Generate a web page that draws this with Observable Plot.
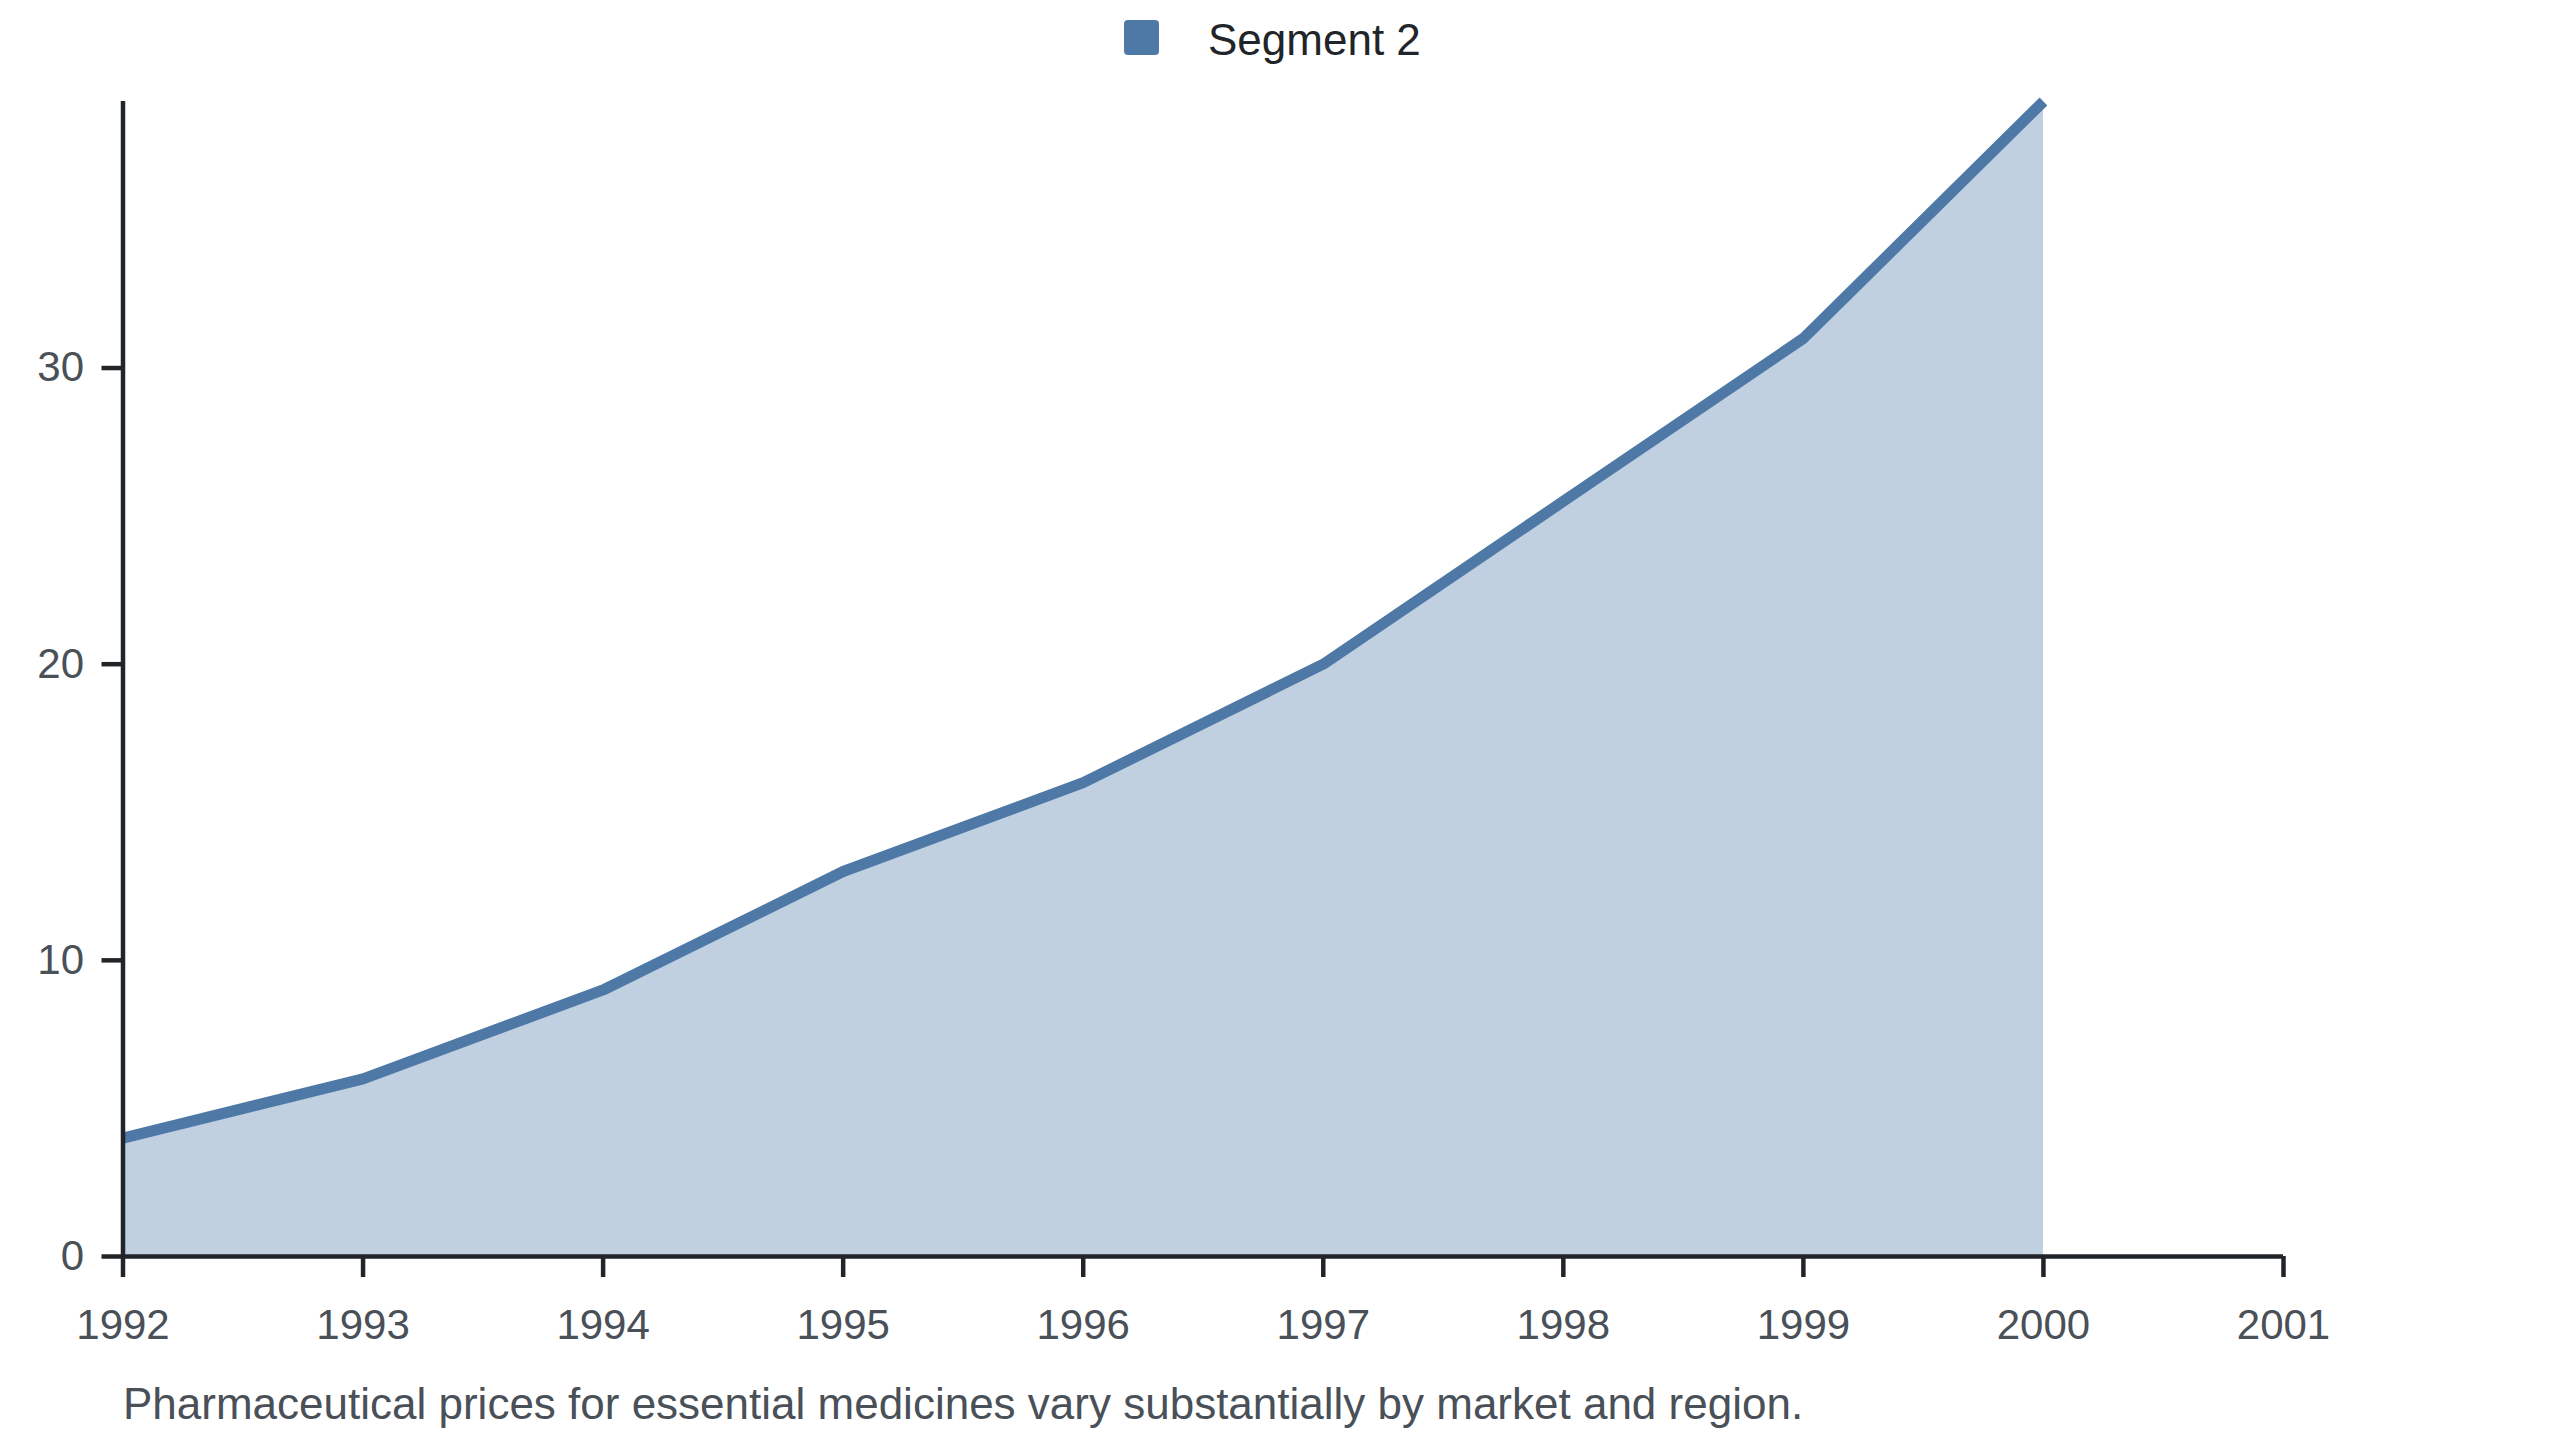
<!DOCTYPE html>
<html>
<head>
<meta charset="utf-8">
<script src="https://cdn.jsdelivr.net/npm/d3@7"></script>
<script src="https://cdn.jsdelivr.net/npm/@observablehq/plot@0.6"></script>
<style>
  html, body { margin: 0; padding: 0; background: #ffffff; }
  body { width: 2560px; height: 1440px; overflow: hidden; font-family: "Liberation Sans", Arial, sans-serif; }
  #legend { position: relative; height: 80px; }
  #legend .sw { position: absolute; left: 1124px; top: 20px; width: 35px; height: 35px; border-radius: 4px; background: #4e79a7; }
  #legend .lb { position: absolute; left: 1208px; top: 18px; font-size: 44px; line-height: 1; color: #212529; white-space: nowrap; }
  #chart svg { display: block; }
  #caption { padding-top: 26px; padding-left: 123px; font-size: 44px; line-height: 1; color: #495057; white-space: nowrap; }
</style>
</head>
<body>
<div id="legend"></div>
<div id="chart"></div>
<div id="caption"></div>
<script>
// ---- data ----
const seriesName = "Segment 2";
const years = [1992, 1993, 1994, 1995, 1996, 1997, 1998, 1999, 2000];
const values = [4, 6, 9, 13, 16, 20, 25.5, 31, 39];
const xTicks = [1992, 1993, 1994, 1995, 1996, 1997, 1998, 1999, 2000, 2001];
const yTicks = [0, 10, 20, 30];
const captionText = "Pharmaceutical prices for essential medicines vary substantially by market and region.";

const seriesColor = "#4e79a7";
const axisColor = "#212529";
const labelColor = "#495057";

const data = years.map((year, i) => ({year, value: values[i]}));

// legend
const legend = document.getElementById("legend");
const sw = document.createElement("div"); sw.className = "sw"; legend.appendChild(sw);
const lb = document.createElement("div"); lb.className = "lb"; lb.textContent = seriesName; legend.appendChild(lb);

const plot = Plot.plot({
  width: 2560,
  height: 1276,
  marginLeft: 122.5,
  marginRight: 277,
  marginTop: 21,
  marginBottom: 100,
  style: {fontFamily: '"Liberation Sans", Arial, sans-serif', fontSize: "42px", color: labelColor, background: "#ffffff", overflow: "visible"},
  x: {domain: [1992, 2001]},
  y: {domain: [0, 39]},
  marks: [
    Plot.areaY(data, {x: "year", y: "value", fill: seriesColor, fillOpacity: 0.35}),
    Plot.lineY(data, {x: "year", y: "value", stroke: seriesColor, strokeWidth: 11, strokeLinecap: "butt", strokeLinejoin: "miter"}),
    Plot.axisX({ticks: xTicks, tickFormat: d => String(d), tickSize: 21, tickPadding: 32, stroke: axisColor, strokeWidth: 4.5, fill: labelColor, label: null}),
    Plot.axisY({ticks: yTicks, tickSize: 21, tickPadding: 18, stroke: axisColor, strokeWidth: 4.5, fill: labelColor, label: null}),
    Plot.ruleY([0], {stroke: axisColor, strokeWidth: 4.5}),
    Plot.ruleX([1992], {stroke: axisColor, strokeWidth: 4.5})
  ]
});
document.getElementById("chart").appendChild(plot);
document.getElementById("caption").textContent = captionText;
</script>
</body>
</html>
